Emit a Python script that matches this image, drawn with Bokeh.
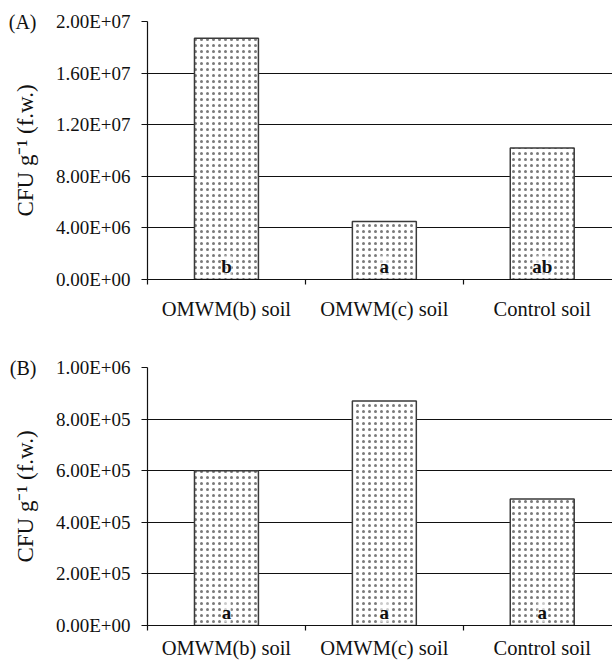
from bokeh.plotting import figure
from bokeh.models import Range1d, FixedTicker, LinearAxis
from bokeh.layouts import column
from bokeh.embed import file_html
from bokeh.resources import INLINE
from bokeh.core.properties import value

# ---- data ----
categories = ["OMWM(b) soil", "OMWM(c) soil", "Control soil"]
cfu_a = [1.87e7, 4.5e6, 1.02e7]
letters_a = ["b", "a", "ab"]
cfu_b = [6.0e5, 8.7e5, 4.9e5]
letters_b = ["a", "a", "a"]
ticks_a = [0.0, 4e6, 8e6, 1.2e7, 1.6e7, 2e7]
tick_labels_a = ["0.00E+00", "4.00E+06", "8.00E+06", "1.20E+07", "1.60E+07", "2.00E+07"]
ticks_b = [0.0, 2e5, 4e5, 6e5, 8e5, 1e6]
tick_labels_b = ["0.00E+00", "2.00E+05", "4.00E+05", "6.00E+05", "8.00E+05", "1.00E+06"]
y_title = "CFU g\u207b\u00b9 (f.w.)"
panel_a = "(A)"
panel_b = "(B)"

FONT = "Liberation Serif"
INK = "#111111"


def make_panel(values, letters, ticks, tick_labels, panel, height, top, bottom, x_standoff):
    n = len(categories)
    xs = [i + 0.5 for i in range(n)]
    p = figure(width=612, height=height,
               x_range=Range1d(0, 2.945), y_range=Range1d(0, ticks[-1]),
               output_backend="svg", toolbar_location=None,
               min_border_left=147, min_border_right=0,
               min_border_top=top, min_border_bottom=bottom)
    p.outline_line_color = None
    p.background_fill_color = "white"
    p.border_fill_color = "white"

    p.vbar(x=xs, top=values, width=0.405, bottom=0,
           fill_color="white", line_color="#3a3a3a", line_width=1.5,
           hatch_pattern="dot", hatch_scale=6, hatch_color="#7a7a7a", hatch_weight=0.5)

    p.text(x=xs, y=[0] * n, text=letters, text_font=value(FONT),
           text_font_style="bold", text_font_size="19px", text_align="center",
           text_baseline="bottom", y_offset=-3, text_color=INK,
           background_fill_color="white", background_fill_alpha=0.6)

    # y axis
    ya = p.yaxis[0]
    ya.ticker = FixedTicker(ticks=ticks)
    ya.major_label_overrides = {float(t): l for t, l in zip(ticks, tick_labels)}
    ya.major_tick_out = 6
    ya.major_tick_in = 0
    ya.minor_tick_out = 0
    ya.minor_tick_in = 0
    ya.major_label_standoff = 11
    ya.major_label_text_font = FONT
    ya.major_label_text_font_size = "19px"
    ya.major_label_text_color = INK
    ya.axis_label = y_title
    ya.axis_label_text_font = FONT
    ya.axis_label_text_font_size = "23px"
    ya.axis_label_text_font_style = "normal"
    ya.axis_label_text_color = INK
    ya.axis_label_standoff = 15
    ya.axis_line_color = INK
    ya.axis_line_width = 1.2
    ya.major_tick_line_color = INK
    ya.major_tick_line_width = 1.2

    # x axis
    xa = p.xaxis[0]
    xa.ticker = FixedTicker(ticks=xs, minor_ticks=list(range(n + 1)))
    xa.major_label_overrides = {float(x): c for x, c in zip(xs, categories)}
    xa.major_tick_out = 0
    xa.major_tick_in = 0
    xa.minor_tick_out = 5
    xa.minor_tick_in = 0
    xa.minor_tick_line_color = INK
    xa.minor_tick_line_width = 1.2
    xa.major_label_standoff = x_standoff
    xa.major_label_text_font = FONT
    xa.major_label_text_font_size = "20.5px"
    xa.major_label_text_color = INK
    xa.axis_line_color = INK
    xa.axis_line_width = 1.2

    p.xgrid.visible = False
    p.ygrid.ticker = FixedTicker(ticks=ticks)
    p.ygrid.grid_line_color = INK
    p.ygrid.grid_line_width = 1.2

    # panel letter as an outer (invisible) axis label at the top tick
    outer = LinearAxis(ticker=FixedTicker(ticks=[ticks[-1]]),
                       major_label_overrides={float(ticks[-1]): panel})
    outer.axis_line_color = None
    outer.major_tick_line_color = None
    outer.minor_tick_line_color = None
    outer.major_tick_out = 0
    outer.major_tick_in = 0
    outer.minor_tick_out = 0
    outer.minor_tick_in = 0
    outer.major_label_standoff = -27
    outer.major_label_text_font = FONT
    outer.major_label_text_font_size = "20px"
    outer.major_label_text_color = INK
    p.add_layout(outer, "left")
    return p


pa = make_panel(cfu_a, letters_a, ticks_a, tick_labels_a, panel_a,
                height=330, top=21, bottom=51, x_standoff=13)
pb = make_panel(cfu_b, letters_b, ticks_b, tick_labels_b, panel_b,
                height=331, top=37, bottom=35, x_standoff=6)

layout = column(pa, pb)
open("out.html", "w").write(file_html(layout, INLINE))
